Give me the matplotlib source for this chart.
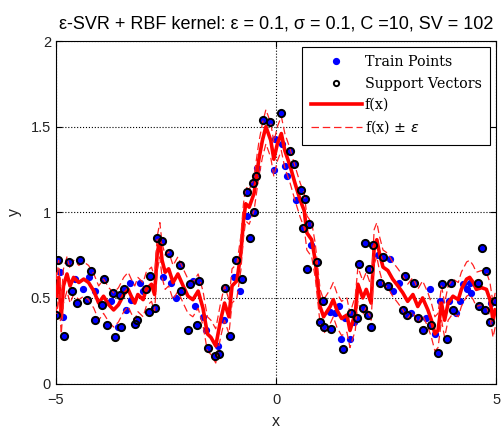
import numpy as np
import matplotlib
matplotlib.use('Agg')
import matplotlib.pyplot as plt

# ---- datos ----
eps = 0.1

# vectores de soporte (x, y)
sv_x = [-4.99, -4.95, -4.81, -4.70, -4.64, -4.52, -4.45, -4.30, -4.20, -4.11,
        -3.95, -3.92, -3.84, -3.71, -3.67, -3.54, -3.52, -3.45, -3.21, -3.16,
        -2.95, -2.89, -2.86, -2.76, -2.70, -2.59, -2.44, -2.19, -2.15, -2.00,
        -1.96, -1.80, -1.76, -1.54, -1.39, -1.30, -1.17, -1.05, -0.90, -0.78,
        -0.60, -0.65, -0.52, -0.50, -0.46, -0.29, -0.14, 0.12, 0.32, 0.41,
        0.57, 0.62, 0.66, 0.76, 0.71, 0.94, 1.00, 1.06, 1.10, 1.25,
        1.51, 1.70, 1.83, 1.89, 1.98, 2.02, 2.08, 2.11, 2.16, 2.20,
        2.36, 2.43, 2.55, 2.88, 2.93, 2.98, 3.14, 3.22, 3.33, 3.52,
        3.68, 3.77, 3.89, 3.98, 4.02, 4.58, 4.61, 4.67, 4.74, 4.78,
        4.86, 4.97]
sv_y = [0.40, 0.72, 0.28, 0.71, 0.54, 0.47, 0.72, 0.49, 0.66, 0.37,
        0.46, 0.61, 0.34, 0.53, 0.27, 0.52, 0.33, 0.55, 0.35, 0.37,
        0.55, 0.42, 0.63, 0.44, 0.85, 0.83, 0.76, 0.69, 0.54, 0.31,
        0.58, 0.34, 0.60, 0.21, 0.16, 0.17, 0.56, 0.28, 0.72, 0.61,
        0.85, 1.12, 1.17, 1.00, 1.21, 1.54, 1.53, 1.58, 1.36, 1.28,
        1.13, 0.91, 1.08, 0.93, 0.67, 0.71, 0.36, 0.48, 0.33, 0.32,
        0.20, 0.41, 0.38, 0.70, 0.44, 0.82, 0.40, 0.67, 0.33, 0.81,
        0.59, 0.74, 0.57, 0.43, 0.63, 0.40, 0.59, 0.38, 0.31, 0.34,
        0.18, 0.58, 0.26, 0.59, 0.43, 0.59, 0.45, 0.79, 0.43, 0.66,
        0.36, 0.48]

# resto de puntos de entrenamiento (dentro del tubo)
in_x = [-4.90, -4.85, -4.56, -4.39, -4.26, -4.11, -3.75, -3.59, -3.41, -3.32,
        -3.10, -3.02, -3.29, -2.57, -2.39, -2.27, -1.89, -1.85, -1.66, -1.60,
        -1.33, -1.18, -0.95, -0.83, -0.67, -0.43, -0.05, -0.03, 0.14, 0.20,
        0.24, 0.45, 0.80, 1.23, 1.34, 1.44, 1.57, 1.48, 1.68, 1.77,
        2.31, 2.58, 2.65, 2.79, 3.07, 3.41, 3.50, 3.61, 3.72, 3.93,
        4.10, 4.18, 4.25, 4.33, 4.40, 4.44, 4.88]
in_y = [0.65, 0.39, 0.61, 0.55, 0.62, 0.54, 0.48, 0.33, 0.43, 0.59,
        0.59, 0.54, 0.49, 0.62, 0.59, 0.50, 0.60, 0.45, 0.39, 0.31,
        0.22, 0.37, 0.62, 0.54, 0.98, 1.26, 1.25, 1.43, 1.40, 1.27,
        1.21, 1.07, 0.81, 0.42, 0.41, 0.45, 0.38, 0.26, 0.26, 0.36,
        0.75, 0.73, 0.54, 0.59, 0.41, 0.38, 0.55, 0.29, 0.48, 0.48,
        0.41, 0.48, 0.58, 0.55, 0.59, 0.53, 0.47]

# f(x) estimada
fx_x = [-5.00, -4.98, -4.94, -4.88, -4.83, -4.75, -4.68, -4.60, -4.48, -4.37,
        -4.26, -4.14, -4.03, -3.92, -3.80, -3.69, -3.58, -3.46, -3.36, -3.29,
        -3.21, -3.14, -3.02, -2.95, -2.83, -2.76, -2.70, -2.64, -2.59, -2.52,
        -2.44, -2.34, -2.23, -2.11, -2.00, -1.89, -1.77, -1.66, -1.56, -1.48,
        -1.37, -1.26, -1.17, -1.07, -1.00, -0.89, -0.80, -0.74, -0.69, -0.61,
        -0.50, -0.39, -0.31, -0.23, -0.12, -0.05, 0.03, 0.12, 0.20, 0.32,
        0.43, 0.55, 0.64, 0.70, 0.81, 0.89, 0.96, 1.00, 1.08, 1.23,
        1.30, 1.38, 1.49, 1.61, 1.68, 1.80, 1.86, 1.97, 2.05, 2.16,
        2.23, 2.29, 2.35, 2.43, 2.54, 2.65, 2.77, 2.88, 2.99, 3.11,
        3.22, 3.33, 3.45, 3.53, 3.61, 3.68, 3.76, 3.83, 3.91, 4.02,
        4.14, 4.21, 4.33, 4.40, 4.48, 4.55, 4.67, 4.78, 4.86, 4.93, 4.98]
fx_y = [0.55, 0.51, 0.62, 0.39, 0.57, 0.64, 0.57, 0.62, 0.59, 0.61,
        0.59, 0.54, 0.47, 0.51, 0.46, 0.43, 0.46, 0.52, 0.55, 0.51,
        0.47, 0.52, 0.49, 0.55, 0.58, 0.52, 0.76, 0.84, 0.72, 0.65,
        0.67, 0.59, 0.64, 0.57, 0.51, 0.49, 0.54, 0.44, 0.29, 0.27,
        0.22, 0.37, 0.47, 0.39, 0.57, 0.60, 0.76, 0.95, 1.05, 1.03,
        1.11, 1.31, 1.42, 1.50, 1.42, 1.31, 1.40, 1.46, 1.36, 1.27,
        1.17, 1.07, 1.01, 0.88, 0.84, 0.72, 0.55, 0.45, 0.39, 0.45,
        0.49, 0.43, 0.38, 0.40, 0.31, 0.41, 0.58, 0.50, 0.55, 0.47,
        0.80, 0.84, 0.76, 0.68, 0.66, 0.61, 0.57, 0.53, 0.48, 0.52,
        0.45, 0.50, 0.43, 0.37, 0.29, 0.31, 0.47, 0.37, 0.47, 0.51,
        0.49, 0.55, 0.61, 0.62, 0.59, 0.55, 0.56, 0.55, 0.49, 0.37, 0.43]

train_x = np.concatenate((sv_x, in_x))
train_y = np.concatenate((sv_y, in_y))
fx_x = np.array(fx_x)
fx_y = np.array(fx_y)

fig = plt.figure(figsize=(5.03, 4.30), dpi=100)
ax = fig.add_axes([0.1113, 0.108, 0.875, 0.7965])

ax.plot(train_x, train_y, 'o', color='b', ms=4.2, mec='b', label='Train Points', zorder=2)
ax.plot(fx_x, fx_y, '-', color='r', lw=2.6, label='f(x)', zorder=3)
ax.plot(fx_x, fx_y + eps, '--', color='#ff2020', lw=0.9, dashes=(6, 3), zorder=3,
        label=r'f(x) $\pm$ $\epsilon$')
ax.plot(fx_x, fx_y - eps, '--', color='#ff2020', lw=0.9, dashes=(6, 3), zorder=3)
ax.plot(sv_x, sv_y, 'o', mfc='none', mec='k', ms=5.2, mew=1.4, label='Support Vectors', zorder=4)

ax.set_xlim(-5, 5)
ax.set_ylim(0, 2)
ax.set_xticks([-5, 0, 5])
ax.set_yticks([0, 0.5, 1, 1.5, 2])
ax.set_yticklabels(['0', '0.5', '1', '1.5', '2'])
ax.grid(True, color='k', linestyle=':', lw=0.8)
ax.tick_params(direction='in', top=True, right=True, labelsize=10.5, labelcolor='#222222', length=4)
ax.tick_params(axis='x', pad=7)
for s in ax.spines.values():
    s.set_linewidth(0.8)

ax.set_xlabel('x', fontsize=11.5, color='#222222', family='Liberation Sans', labelpad=5)
ax.set_ylabel('y', fontsize=11.5, color='#222222', family='Liberation Sans', labelpad=6)
for t in ax.get_xticklabels() + ax.get_yticklabels():
    t.set_family('Liberation Sans')

ax.set_title('ε-SVR + RBF kernel: ε = 0.1, σ = 0.1, C =10, SV = 102',
             fontsize=13.0, family='Liberation Sans', pad=9)

h, l = ax.get_legend_handles_labels()
orden = [0, 3, 1, 2]
leg = ax.legend([h[i] for i in orden], [l[i] for i in orden], loc='upper right',
                prop={'family': 'DejaVu Serif', 'size': 10.3}, fancybox=False,
                edgecolor='k', framealpha=1, handlelength=3.6, borderaxespad=0.4,
                labelspacing=0.5, handletextpad=0.2, borderpad=0.6)
leg.get_frame().set_linewidth(0.8)
leg.legend_handles[1].set_markersize(3.8)
leg.legend_handles[1].set_markeredgewidth(1.4)
leg.legend_handles[3].set_color('#ff2020')

plt.savefig('out.png', dpi=100)
plt.close()
